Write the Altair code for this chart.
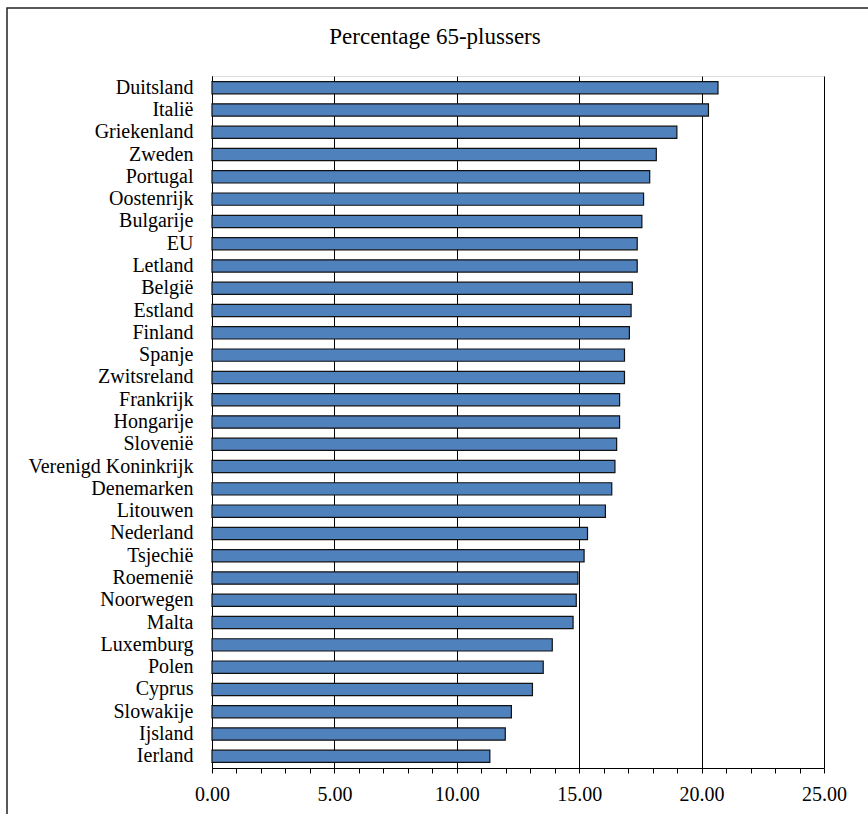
import altair as alt
import pandas as pd

# Share of the population aged 65 and over, per country (%)
countries = [
    "Duitsland", "Italië", "Griekenland", "Zweden", "Portugal", "Oostenrijk",
    "Bulgarije", "EU", "Letland", "België", "Estland", "Finland", "Spanje",
    "Zwitsreland", "Frankrijk", "Hongarije", "Slovenië", "Verenigd Koninkrijk",
    "Denemarken", "Litouwen", "Nederland", "Tsjechië", "Roemenië", "Noorwegen",
    "Malta", "Luxemburg", "Polen", "Cyprus", "Slowakije", "Ijsland", "Ierland",
]
share_65_plus = [
    20.67, 20.28, 18.99, 18.15, 17.88, 17.63,
    17.56, 17.37, 17.37, 17.17, 17.12, 17.05, 16.85,
    16.85, 16.65, 16.65, 16.53, 16.46,
    16.33, 16.07, 15.34, 15.20, 14.95, 14.88,
    14.75, 13.90, 13.53, 13.09, 12.23, 11.98, 11.35,
]
tick_values = list(range(0, 26))
chart_title = "Percentage 65-plussers"

df = pd.DataFrame({"land": countries, "pct": share_65_plus})

W, H = 612, 692
PAD_L, PAD_T = 212, 76
FONT = "Liberation Serif"

bars = alt.Chart(df).mark_bar(
    color="#4F81BD", stroke="#111111", strokeWidth=1.2
).encode(
    x=alt.X(
        "pct:Q",
        scale=alt.Scale(domain=[0, 25], nice=False, zero=True),
        axis=alt.Axis(
            title=None,
            values=tick_values,
            labelExpr="datum.value % 5 === 0 ? format(datum.value, '.2f') : ''",
            labelOverlap=False,
            labelFlush=False,
            labelFont=FONT,
            labelFontSize=20,
            labelColor="black",
            labelPadding=11,
            tickSize=5,
            tickColor="black",
            domainColor="black",
            grid=True,
            gridColor="black",
            gridOpacity={"condition": {"test": "datum.value % 5 === 0", "value": 1}, "value": 0},
        ),
    ),
    y=alt.Y(
        "land:N",
        sort=None,
        scale=alt.Scale(paddingInner=0.45, paddingOuter=0.25),
        axis=alt.Axis(
            title=None,
            ticks=False,
            tickSize=0,
            labelPadding=19,
            labelFont=FONT,
            labelFontSize=20,
            labelColor="black",
            domainColor="black",
            grid=False,
        ),
    ),
)

one_row = pd.DataFrame({"f": [0]})

# Outer frame around the whole figure
frame = alt.Chart(one_row).mark_rect(
    fill=None, stroke="#222222", strokeWidth=1.5
).encode(
    x=alt.value(7 - PAD_L),
    x2=alt.value(W + 80),
    y=alt.value(8 - PAD_T),
    y2=alt.value(H + 80),
)

# Figure title, centred on the outer frame
title = alt.Chart(one_row).mark_text(
    font=FONT, fontSize=23, color="black", align="center", baseline="alphabetic"
).encode(
    x=alt.value(435 - PAD_L),
    y=alt.value(44 - PAD_T),
    text=alt.value(chart_title),
)

chart = alt.layer(bars, frame, title).properties(
    width=W,
    height=H,
    padding={"left": PAD_L, "top": PAD_T, "right": 868 - PAD_L - W, "bottom": 814 - PAD_T - H},
    autosize=alt.AutoSizeParams(type="none"),
).configure_view(
    stroke="black", strokeWidth=1
).configure(
    background="white"
)

chart.save("out.html", embed_options={"renderer": "svg", "actions": False})
